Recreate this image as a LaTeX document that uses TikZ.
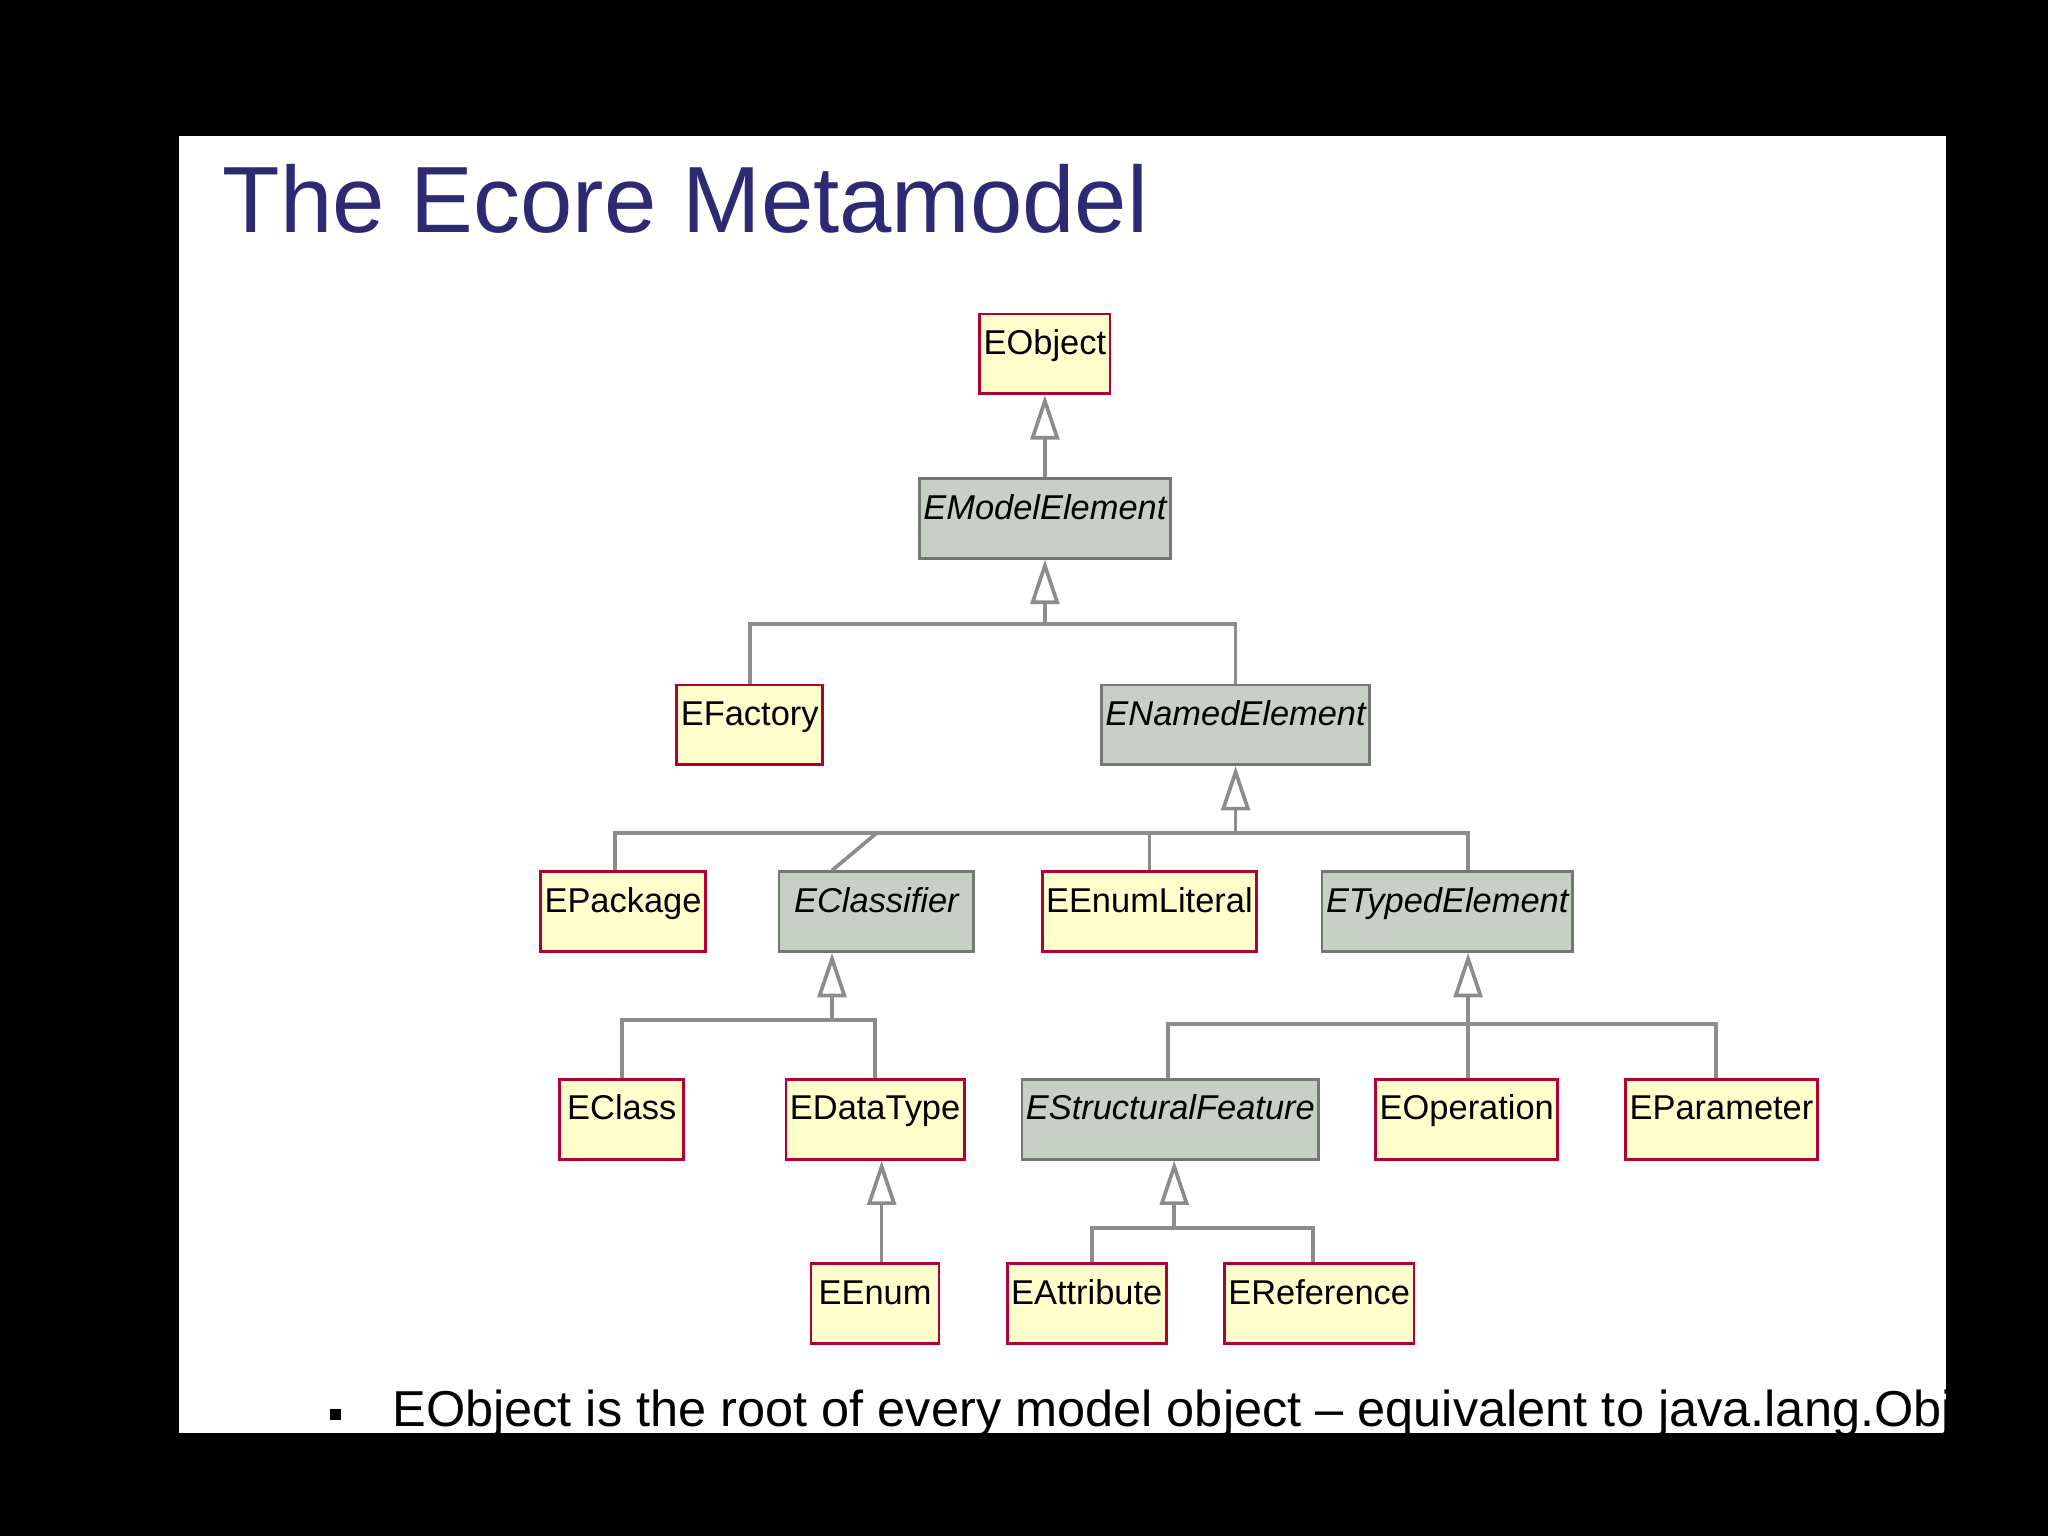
\documentclass[tikz,border=0pt]{standalone}
\usepackage{fontspec}
\setmainfont{Liberation Sans}
\usetikzlibrary{arrows.meta}
\definecolor{slidebg}{rgb}{1,1,1}
\definecolor{titleblue}{rgb}{0.18,0.16,0.45}
\definecolor{clsfill}{rgb}{1,1,0.8}
\definecolor{clsdraw}{rgb}{0.7,0,0.2}
\definecolor{absfill}{rgb}{0.78,0.81,0.78}
\definecolor{absdraw}{rgb}{0.45,0.47,0.45}
\definecolor{linegray}{rgb}{0.55,0.55,0.55}
\begin{document}
\begin{tikzpicture}[
    cls/.style={draw=clsdraw,fill=clsfill,semithick,minimum height=0.61cm,
                inner sep=0.03cm,text height=0.28cm,text depth=0.27cm,
                font=\fontsize{7.5}{8}\selectfont},
    abs/.style={cls,draw=absdraw,fill=absfill,font=\fontsize{7.5}{8}\selectfont\itshape},
    link/.style={draw=linegray,thick},
    gen/.style={link,-{Triangle[open,length=0.34cm,width=0.22cm,fill=white]}}]
  \useasboundingbox (0,0) rectangle (15.68,11.76);
  \fill[black] (0,0) rectangle (15.68,11.76);
  \fill[slidebg] (1.37,0.79) rectangle (14.90,10.72);

  \node[anchor=base west,text=titleblue,font=\fontsize{20.5}{24}\selectfont] (title) at (1.58,9.98) {The Ecore Metamodel};

  \node[cls,minimum width=0.99cm] (EObject) at (8.00,9.05) {EObject};
  \node[abs,minimum width=1.71cm] (EModelElement) at (8.00,7.79) {EModelElement};
  \node[cls,minimum width=1.12cm] (EFactory) at (5.74,6.21) {EFactory};
  \node[abs,minimum width=1.87cm] (ENamedElement) at (9.46,6.21) {ENamedElement};
  \node[cls,minimum width=1.26cm] (EPackage) at (4.77,4.78) {EPackage};
  \node[abs,minimum width=1.49cm] (EClassifier) at (6.71,4.78) {EClassifier};
  \node[cls,minimum width=1.51cm] (EEnumLiteral) at (8.80,4.78) {EEnumLiteral};
  \node[abs,minimum width=1.78cm] (ETypedElement) at (11.08,4.78) {ETypedElement};
  \node[cls,minimum width=0.95cm] (EClass) at (4.76,3.19) {EClass};
  \node[cls,minimum width=1.32cm] (EDataType) at (6.70,3.19) {EDataType};
  \node[abs,minimum width=2.06cm] (EStructuralFeature) at (8.96,3.19) {EStructuralFeature};
  \node[cls,minimum width=1.31cm] (EOperation) at (11.23,3.19) {EOperation};
  \node[cls,minimum width=1.37cm] (EParameter) at (13.18,3.19) {EParameter};
  \node[cls,minimum width=0.98cm] (EEnum) at (6.70,1.78) {EEnum};
  \node[cls,minimum width=1.18cm] (EAttribute) at (8.32,1.78) {EAttribute};
  \node[cls,minimum width=1.33cm] (EReference) at (10.10,1.78) {EReference};

  % junctions of the generalisation trees
  \coordinate (jModel) at (8.00,6.98);
  \coordinate (jNamed) at (9.46,5.38);
  \coordinate (jClassifier) at (6.37,3.95);
  \coordinate (jTyped) at (11.24,3.92);
  \coordinate (jFeature) at (8.99,2.36);

  \draw[gen] (EModelElement) -- (EObject);
  \draw[gen] (jModel) -- (EModelElement);
  \draw[link] (EFactory.north) |- (jModel) -| (ENamedElement.north);
  \draw[gen] (jNamed) -- (ENamedElement);
  \draw[link] ([xshift=-0.06cm]EPackage.north) |- (jNamed) -| (ETypedElement.north -| jTyped);
  \draw[link] (EClassifier.north -| jClassifier) -- (EClassifier.north |- jNamed);
  \draw[link] (EEnumLiteral.north) -- (EEnumLiteral.north |- jNamed);
  \draw[gen] (jClassifier) -- (EClassifier.south -| jClassifier);
  \draw[link] (EClass.north) |- (jClassifier) -| (EDataType.north);
  \draw[gen] (jTyped) -- (ETypedElement.south -| jTyped);
  \draw[link] ([xshift=-0.02cm]EStructuralFeature.north) |- (jTyped) -| ([xshift=-0.04cm]EParameter.north);
  \draw[link] (EOperation.north -| jTyped) -- (jTyped);
  \draw[gen] ([xshift=0.05cm]EEnum.north) -- ([xshift=0.05cm]EDataType.south);
  \draw[gen] (jFeature) -- (EStructuralFeature.south -| jFeature);
  \draw[link] ([xshift=0.04cm]EAttribute.north) |- (jFeature) -| ([xshift=-0.05cm]EReference.north);

  \node[anchor=base west,font=\fontsize{11}{13}\selectfont] (bullet) at (2.88,0.84)
    {EObject is the root of every model object -- equivalent to java.lang.Object};
  \fill (2.53,0.89) rectangle (2.61,0.97);
\end{tikzpicture}
\end{document}
